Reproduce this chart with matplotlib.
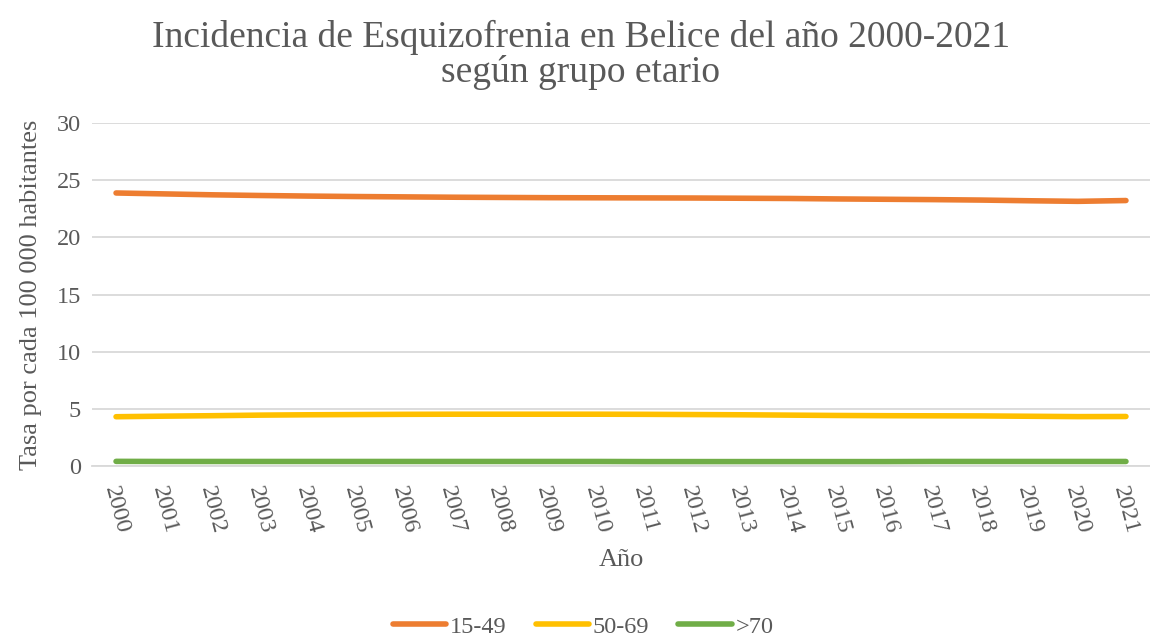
import numpy as np
import matplotlib.pyplot as plt

# años y tasas por 100 000 habitantes
years = [str(y) for y in range(2000, 2022)]
g15_49 = [23.88, 23.80, 23.72, 23.66, 23.61, 23.57, 23.54, 23.51, 23.49, 23.47, 23.46,
          23.45, 23.44, 23.42, 23.40, 23.36, 23.33, 23.30, 23.26, 23.20, 23.15, 23.22]
g50_69 = [4.33, 4.38, 4.42, 4.47, 4.50, 4.52, 4.54, 4.55, 4.55, 4.55, 4.55,
          4.54, 4.52, 4.50, 4.47, 4.44, 4.42, 4.41, 4.40, 4.37, 4.34, 4.35]
g70 = [0.43, 0.42, 0.42, 0.42, 0.42, 0.42, 0.42, 0.42, 0.42, 0.42, 0.42,
       0.41, 0.41, 0.41, 0.41, 0.41, 0.41, 0.42, 0.42, 0.42, 0.42, 0.42]

plt.rcParams['font.family'] = ['Liberation Serif', 'DejaVu Serif']
txt = '#595959'

fig = plt.figure(figsize=(11.5, 6.37), dpi=100)
ax = fig.add_axes([0.08, 0.268, 0.92, 0.539])

x = np.arange(len(years))
ax.plot(x, g15_49, color='#ED7D31', lw=4, solid_capstyle='round', label='15-49')
ax.plot(x, g50_69, color='#FFC000', lw=4, solid_capstyle='round', label='50-69')
ax.plot(x, g70, color='#70AD47', lw=4, solid_capstyle='round', label='>70')

ax.set_ylim(0, 30)
ax.set_yticks(range(0, 31, 5))
ax.set_xlim(-0.5, len(years) - 0.5)
ax.set_xticks(x)
ax.set_xticklabels(years, rotation=-75, ha='center', va='top')
ax.grid(axis='y', color='#D9D9D9', lw=1.3)
ax.set_axisbelow(True)
for s in ['top', 'right', 'left']:
    ax.spines[s].set_visible(False)
ax.spines['bottom'].set_color('#D9D9D9')
ax.spines['bottom'].set_linewidth(1.3)
ax.tick_params(axis='y', length=0, labelsize=17.5, colors=txt, pad=8)
ax.tick_params(axis='x', length=0, labelsize=17.5, colors=txt, pad=13)

ax.set_xlabel('Año', fontsize=19, color=txt, labelpad=9)
ax.set_ylabel('Tasa por cada 100 000 habitantes', fontsize=19, color=txt, labelpad=10)

fig.text(0.505, 0.914, 'Incidencia de Esquizofrenia en Belice del año 2000-2021\nsegún grupo etario',
         ha='center', va='center', fontsize=27, color=txt, linespacing=1.0)

fig.legend(loc='center', bbox_to_anchor=(0.507, 0.016), ncol=3, frameon=False,
           fontsize=17.5, labelcolor=txt, handlelength=2.2, columnspacing=1.2, handletextpad=0.15)

fig.savefig('out.png', dpi=100)
